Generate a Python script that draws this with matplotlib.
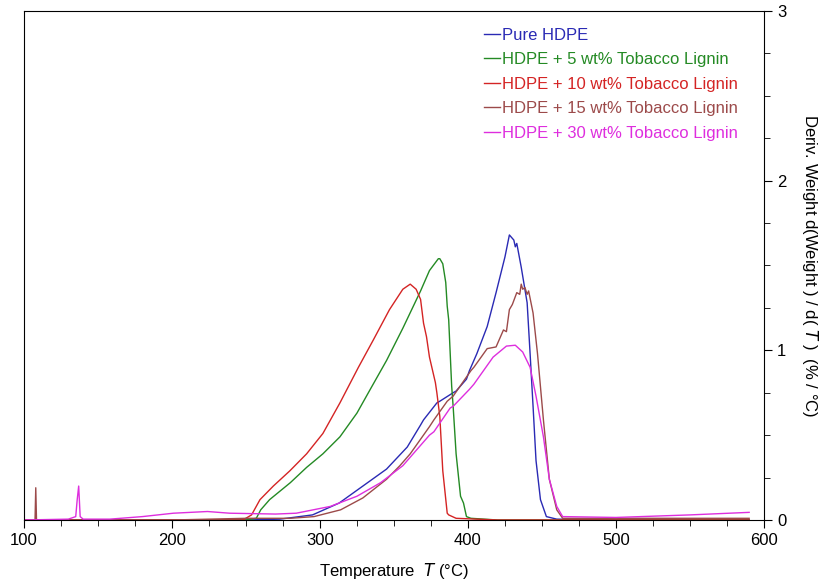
import matplotlib
matplotlib.use("Agg")
import matplotlib.pyplot as plt
from matplotlib.ticker import MultipleLocator

# temperature (°C) and derivative weight (%/°C)
t_hdpe = [100, 200, 250, 273, 295, 313, 329, 345, 359, 368, 370, 379, 381, 390, 392,
          397, 399, 401, 406, 413, 419, 425, 428, 431, 432, 433, 436, 440, 442, 444,
          446, 449, 453, 460, 500, 590]
y_hdpe = [0.0, 0.0, 0.0, 0.005, 0.03, 0.10, 0.20, 0.30, 0.43, 0.56, 0.59, 0.69, 0.70, 0.75, 0.76,
          0.81, 0.83, 0.88, 0.98, 1.14, 1.34, 1.55, 1.68, 1.65, 1.61, 1.63, 1.49, 1.28, 0.98, 0.67,
          0.35, 0.12, 0.02, 0.005, 0.0, 0.0]

t_5 = [100, 200, 250, 257, 260, 266, 280, 291, 302, 313.5, 325, 334, 345, 356, 368, 374,
       380, 381, 383, 385, 386, 387, 389, 390, 392, 395, 397, 399, 402, 420, 500, 590]
y_5 = [0.0, 0.0, 0.0, 0.01, 0.06, 0.12, 0.22, 0.31, 0.39, 0.49, 0.63, 0.77, 0.94, 1.13, 1.35, 1.47,
       1.54, 1.54, 1.51, 1.40, 1.26, 1.18, 0.79, 0.67, 0.39, 0.14, 0.10, 0.02, 0.01, 0.0, 0.0, 0.0]

t_10 = [100, 200, 248, 253.8, 259.5, 268.5, 279.7, 291, 302, 313.5, 326, 336, 347, 356, 361, 365,
        368, 370, 372, 374, 378, 379, 381, 383, 386, 387, 392, 420, 500, 590]
y_10 = [0.0, 0.0, 0.0, 0.03, 0.12, 0.20, 0.29, 0.39, 0.51, 0.69, 0.90, 1.06, 1.24, 1.36, 1.39, 1.36,
        1.30, 1.16, 1.08, 0.96, 0.81, 0.75, 0.61, 0.29, 0.04, 0.03, 0.01, 0.0, 0.0, 0.0]

t_15 = [100, 107.5, 108, 108.5, 200, 250, 280, 296, 314, 329, 345, 354, 361, 374, 377, 386,
        390, 402, 404, 413, 419, 422, 424, 426, 428, 430, 433, 435, 436, 437, 438.5, 440,
        441, 444, 447, 451, 455, 460, 464, 500, 590]
y_15 = [0.0, 0.0, 0.19, 0.0, 0.0, 0.01, 0.01, 0.02, 0.06, 0.13, 0.24, 0.32, 0.39, 0.55, 0.59, 0.70,
        0.73, 0.88, 0.90, 1.01, 1.02, 1.08, 1.12, 1.11, 1.24, 1.27, 1.34, 1.33, 1.39, 1.36, 1.37, 1.33,
        1.35, 1.22, 0.98, 0.59, 0.24, 0.06, 0.01, 0.01, 0.01]

t_30 = [100, 130, 135, 136, 137, 138, 140, 158, 180, 201, 224, 239, 270, 284, 307, 325,
        341, 356, 374, 377, 388, 390, 401, 404, 417, 426, 432, 437, 442, 446, 451,
        455, 460, 464, 500, 550, 590]
y_30 = [0.0, 0.005, 0.02, 0.12, 0.20, 0.02, 0.005, 0.005, 0.02, 0.04, 0.05, 0.04, 0.035, 0.04, 0.08, 0.14,
        0.22, 0.32, 0.50, 0.52, 0.66, 0.67, 0.77, 0.80, 0.96, 1.025, 1.03, 0.99, 0.90, 0.73, 0.49,
        0.24, 0.08, 0.02, 0.015, 0.03, 0.045]

series = [
    (t_hdpe, y_hdpe, "Pure HDPE", "#2a2ab4"),
    (t_5, y_5, "HDPE + 5 wt% Tobacco Lignin", "#248a24"),
    (t_10, y_10, "HDPE + 10 wt% Tobacco Lignin", "#d42424"),
    (t_15, y_15, "HDPE + 15 wt% Tobacco Lignin", "#9c4a4a"),
    (t_30, y_30, "HDPE + 30 wt% Tobacco Lignin", "#de2ede"),
]

plt.rcParams['font.family'] = ['Liberation Sans', 'DejaVu Sans']
fig = plt.figure(figsize=(8.25, 5.84), dpi=100)
ax = fig.add_axes([0.029, 0.1096, 0.897, 0.8716])

for t, y, label, color in series:
    ax.plot(t, y, color=color, lw=1.0, label=label)

ax.set_xlim(100, 600)
ax.set_ylim(0, 3)
ax.xaxis.set_major_locator(MultipleLocator(100))
ax.xaxis.set_minor_locator(MultipleLocator(25))
ax.yaxis.set_major_locator(MultipleLocator(1))
ax.yaxis.set_minor_locator(MultipleLocator(0.25))
ax.yaxis.tick_right()
ax.yaxis.set_label_position("right")
ax.tick_params(axis='both', which='both', direction='out', labelsize=12)
ax.tick_params(axis='both', which='major', length=6)
ax.tick_params(axis='both', which='minor', length=4)
ax.tick_params(axis='x', top=False)
ax.set_xlabel(r"Temperature  $\it{T}$ (°C)", fontsize=12, labelpad=9)
ax.set_ylabel(r"Deriv. Weight d(Weight ) / d( $\it{T}$ )  (% / °C)", fontsize=12,
              rotation=-90, labelpad=24)

leg = ax.legend(loc='upper right', bbox_to_anchor=(0.985, 0.997), frameon=False,
                fontsize=12, handlelength=1.0, handletextpad=0.1, labelspacing=0.57)
for txt, line in zip(leg.get_texts(), leg.get_lines()):
    txt.set_color(line.get_color())

fig.savefig("out.png", dpi=100)
